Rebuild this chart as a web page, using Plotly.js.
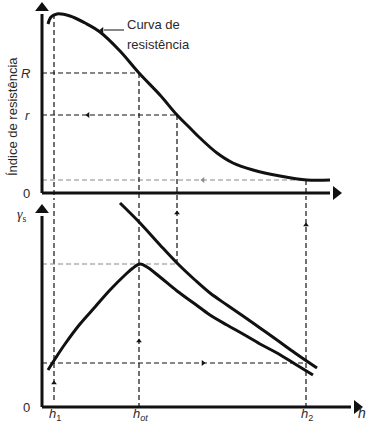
<!DOCTYPE html>
<html><head><meta charset="utf-8">
<script src="https://cdn.plot.ly/plotly-3.0.1.min.js"></script>
<style>html,body{margin:0;padding:0;background:#fff}#c{width:368px;height:425px}</style>
</head><body><div id="c"></div>
<script>
// ---- data (schematic units) ----
// Top panel: resistance curve
const resX = [0.6, 0.9, 1.5, 2.8, 4.3, 5.8, 7.8, 9.7, 11.8, 13.5, 14.8, 15.8, 17.5, 19.1, 21.1, 23.8, 26.5, 28.8];
const resY = [16.9, 17.6, 17.9, 17.7, 17.0, 16.1, 14.2, 12.0, 9.8, 7.8, 6.5, 5.5, 4.0, 3.0, 2.3, 1.7, 1.3, 1.3];
// Bottom panel: dry unit weight (compaction) curve
const dryX = [0.6, 1.3, 2.3, 3.8, 5.3, 6.8, 8.3, 9.1, 9.8, 10.5, 11.8, 13.5, 15.3, 16.8, 18.5, 20.1, 21.8, 23.5, 25.3, 27.1];
const dryY = [3.7, 4.8, 6.3, 8.3, 10.0, 11.7, 13.2, 13.9, 14.3, 14.0, 13.0, 11.6, 10.3, 9.2, 8.2, 7.3, 6.3, 5.4, 4.3, 3.2];
// Bottom panel: upper curve
const satX = [7.8, 9.8, 11.8, 13.5, 15.3, 16.8, 18.5, 20.1, 21.8, 23.5, 25.3, 27.5];
const satY = [20.4, 18.4, 16.2, 14.4, 12.7, 11.4, 10.2, 9.1, 7.9, 6.7, 5.4, 3.9];
// Key moisture contents
const hValues = [1.2, 9.7, 13.5, 26.4];           // h1, hot, h(r), h2
const hLabels = ['<i>h</i><sub>1</sub>', '<i>h</i><sub><i>ot</i></sub>', '', '<i>h</i><sub>2</sub>'];
// Resistance levels (top) and unit weight levels (bottom)
const resLevels = [12.0, 7.8, 1.3];               // R, r, floor
const resLevelLabels = ['<i>R</i>', '<i>r</i>'];
const gammaLevels = [14.3, 4.4];                   // gamma max, gamma at h1/h2
// Axis extents
const topAxisX = 29.4, topAxisY = 18.5, botAxisX = 31.5, botAxisY = 19.7;

const BLK = '#111', GRY = '#8a8a8a';
const traces = [];
function line(x, y, yaxis, color, width) {
  traces.push({type:'scatter', mode:'lines', x:x, y:y, xaxis:'x', yaxis:yaxis,
    line:{color:color, width:width, shape:'spline', smoothing:1},
    hoverinfo:'skip', showlegend:false});
}
function seg(x, y, yaxis, color, width, dash) {
  traces.push({type:'scatter', mode:'lines', x:x, y:y, xaxis:'x', yaxis:yaxis,
    line:{color:color, width:width, dash:dash||'solid'}, hoverinfo:'skip', showlegend:false});
}
function head(x, y, yaxis, sym, size, color) {
  traces.push({type:'scatter', mode:'markers', x:[x], y:[y], xaxis:'x', yaxis:yaxis,
    marker:{symbol:sym, size:size, color:color, line:{width:0}}, cliponaxis:false,
    hoverinfo:'skip', showlegend:false});
}
const D = '5px,3px';
// dashed guide lines, top panel
seg([0, hValues[1]], [resLevels[0], resLevels[0]], 'y', BLK, 1.2, D);
seg([0, hValues[2]], [resLevels[1], resLevels[1]], 'y', BLK, 1.2, D);
seg([0, hValues[3]], [resLevels[2], resLevels[2]], 'y', GRY, 1.1, D);
seg([hValues[0], hValues[0]], [17.9, -5], 'y', BLK, 1.2, D);
seg([hValues[1], hValues[1]], [resLevels[0], -5], 'y', BLK, 1.2, D);
seg([hValues[2], hValues[2]], [resLevels[1], -5], 'y', BLK, 1.2, D);
seg([hValues[3], hValues[3]], [resLevels[2], -5], 'y', BLK, 1.2, D);
// dashed guide lines, bottom panel
seg([hValues[0], hValues[0]], [30, 0.6], 'y2', BLK, 1.2, D);
seg([hValues[1], hValues[1]], [30, 0], 'y2', BLK, 1.2, D);
seg([hValues[2], hValues[2]], [30, gammaLevels[0]], 'y2', BLK, 1.2, D);
seg([hValues[3], hValues[3]], [30, 0], 'y2', BLK, 1.2, D);
seg([0, hValues[2]], [gammaLevels[0], gammaLevels[0]], 'y2', GRY, 1.1, D);
seg([0, hValues[3]], [gammaLevels[1], gammaLevels[1]], 'y2', BLK, 1.2, D);
// curves
line(resX, resY, 'y', BLK, 3);
line(dryX, dryY, 'y2', BLK, 3);
line(satX, satY, 'y2', BLK, 3);
// axes
seg([0, 0], [0, topAxisY - 0.6], 'y', BLK, 3);
seg([0, topAxisX - 0.6], [0, 0], 'y', BLK, 3);
seg([0, 0], [0, botAxisY - 0.6], 'y2', BLK, 3);
seg([0, botAxisX - 0.6], [0, 0], 'y2', BLK, 3);
head(0, topAxisY, 'y', 'triangle-up', 12, BLK);
head(topAxisX, 0, 'y', 'triangle-right', 12, BLK);
head(0, botAxisY, 'y2', 'triangle-up', 12, BLK);
head(botAxisX, 0, 'y2', 'triangle-right', 12, BLK);
// small direction arrows on guide lines
head(4.6, resLevels[1], 'y', 'triangle-left', 5, BLK);
head(16.1, resLevels[2], 'y', 'triangle-left', 5, GRY);
head(16.1, gammaLevels[1], 'y2', 'triangle-right', 5, BLK);
head(hValues[0], 2.4, 'y2', 'triangle-up', 5, BLK);
head(hValues[1], 6.6, 'y2', 'triangle-up', 5, BLK);
head(hValues[2], 19.4, 'y2', 'triangle-up', 5, BLK);
head(hValues[3], 18.2, 'y2', 'triangle-up', 5, BLK);
// arrow from label to curve
seg([8.2, 6.2], [16.3, 16.3], 'y', BLK, 1);
head(6.0, 16.3, 'y', 'triangle-left', 5, BLK);

const TXT = '#2a2a2a';
const F = {family:'Liberation Sans, Arial, sans-serif', size:13, color:TXT};
const ann = [];
function t(x, y, yref, text, opt) {
  ann.push(Object.assign({x:x, y:y, xref:'x', yref:yref, text:text, showarrow:false, font:F,
    xanchor:'center', yanchor:'middle'}, opt||{}));
}
t(8.3, 16.9, 'y', 'Curva de', {xanchor:'left'});
t(8.3, 14.9, 'y', 'resistência', {xanchor:'left'});
t(-3.0, 7.6, 'y', 'Índice de resistência', {textangle:-90});
for (let i = 0; i < resLevelLabels.length; i++) t(-1.0, resLevels[i], 'y', resLevelLabels[i], {xanchor:'right'});
t(-1.0, 0, 'y', '0', {xanchor:'right'});
t(29.9, -1.4, 'y', '<i>h</i>', {font:Object.assign({}, F, {size:14})});
t(-1.0, 0, 'y2', '0', {xanchor:'right'});
t(-2.0, 19.2, 'y2', '<i>γ</i><sub>s</sub>', {font:{family:'Liberation Serif, serif', size:14, color:TXT}});
t(32.0, -0.6, 'y2', '<i>h</i>', {font:Object.assign({}, F, {size:14})});
for (let i = 0; i < hValues.length; i++) {
  if (hLabels[i]) t(hValues[i] + 0.1, -0.75, 'y2', hLabels[i], {font:Object.assign({}, F, {size:13})});
}

const layout = {
  width:368, height:425, margin:{l:0, r:0, t:0, b:0},
  paper_bgcolor:'#fff', plot_bgcolor:'#fff', showlegend:false,
  xaxis:{range:[-4.2, 32.6], visible:false, fixedrange:true},
  yaxis:{domain:[0.5294, 1], range:[-0.7, 19.3], visible:false, fixedrange:true},
  yaxis2:{domain:[0, 0.5294], range:[-1.8, 20.7], visible:false, fixedrange:true, anchor:'x'},
  annotations:ann
};
Plotly.newPlot('c', traces, layout, {staticPlot:true, displayModeBar:false});
</script></body></html>
